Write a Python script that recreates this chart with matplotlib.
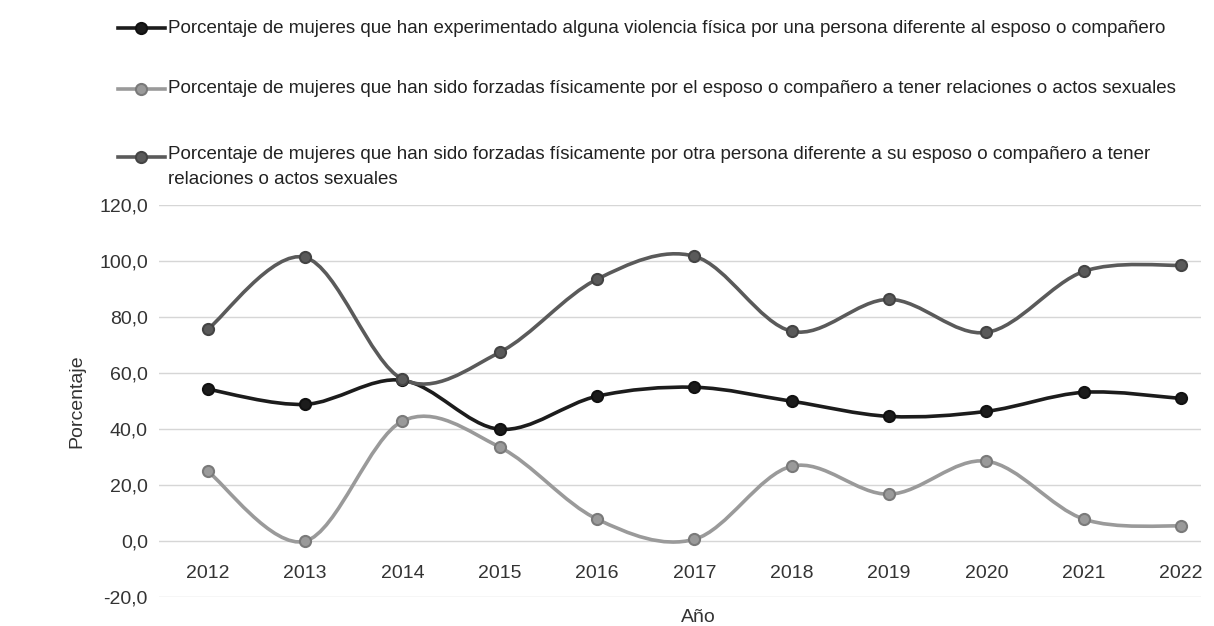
import matplotlib.pyplot as plt
import numpy as np
from matplotlib.path import Path
from matplotlib.patches import PathPatch
from matplotlib.lines import Line2D

years = [2012, 2013, 2014, 2015, 2016, 2017, 2018, 2019, 2020, 2021, 2022]
violencia_otra = [54.3, 48.9, 57.5, 40.0, 51.8, 55.0, 50.0, 44.6, 46.4, 53.2, 51.0]
forzadas_esposo = [25.0, 0.0, 42.9, 33.6, 7.9, 0.7, 26.8, 16.8, 28.6, 7.9, 5.4]
forzadas_otra = [75.7, 101.4, 57.9, 67.5, 93.6, 101.8, 75.0, 86.4, 74.6, 96.4, 98.6]

labels = [
    "Porcentaje de mujeres que han experimentado alguna violencia física por una persona diferente al esposo o compañero",
    "Porcentaje de mujeres que han sido forzadas físicamente por el esposo o compañero a tener relaciones o actos sexuales",
    "Porcentaje de mujeres que han sido forzadas físicamente por otra persona diferente a su esposo o compañero a tener\nrelaciones o actos sexuales",
]
colors = ["#1c1c1c", "#9a9a9a", "#5a5a5a"]
edge_colors = ["#111111", "#7a7a7a", "#444444"]

plt.rcParams['font.family'] = ['Liberation Sans Narrow', 'Liberation Sans', 'DejaVu Sans']


def smooth_path(x, y):
    # Bezier curve through the points (like a spreadsheet "smoothed line")
    pts = np.column_stack([x, y]).astype(float)
    verts = [pts[0]]
    codes = [Path.MOVETO]
    n = len(pts)
    for i in range(n - 1):
        p0 = pts[i - 1] if i > 0 else pts[i]
        p1 = pts[i]
        p2 = pts[i + 1]
        p3 = pts[i + 2] if i + 2 < n else pts[i + 1]
        c1 = p1 + (p2 - p0) / 6.0
        c2 = p2 - (p3 - p1) / 6.0
        verts += [c1, c2, p2]
        codes += [Path.CURVE4] * 3
    return Path(verts, codes)


fig = plt.figure(figsize=(12.14, 6.26), dpi=100)
ax = fig.add_axes([0.131, 0.046, 0.858, 0.626])

series = [violencia_otra, forzadas_esposo, forzadas_otra]
for vals, c, ec in zip(series, colors, edge_colors):
    patch = PathPatch(smooth_path(years, vals), facecolor='none', edgecolor=c, lw=2.6, zorder=3)
    ax.add_patch(patch)
    ax.plot(years, vals, ls='none', marker='o', ms=8, mfc=c, mec=ec, mew=1.5, zorder=4)

ax.set_xlim(2011.5, 2022.2)
ax.set_ylim(-20, 120)
ax.set_yticks(np.arange(-20, 121, 20))
ax.set_yticklabels([f"{v:.1f}".replace('.', ',') for v in np.arange(-20, 121, 20)])
ax.set_xticks(years)
ax.set_xticklabels([str(y) for y in years])
ax.grid(axis='y', color='#d6d6d6', lw=1)
ax.set_axisbelow(True)
for s in ax.spines.values():
    s.set_visible(False)
ax.spines['bottom'].set_position(('data', 0))
ax.tick_params(length=0, labelsize=14, colors='#333333')
ax.tick_params(axis='x', pad=17)
ax.tick_params(axis='y', pad=8)
ax.set_ylabel("Porcentaje", fontsize=14, color='#333333', labelpad=10)
fig.text(0.575, 0.006, "Año", fontsize=14, color='#333333', ha='center')

# legend at the top, one entry per row
leg_y = [0.955, 0.858, 0.75]
for i, (lab, c, ec, yy) in enumerate(zip(labels, colors, edge_colors, leg_y)):
    fig.add_artist(Line2D([0.097, 0.136], [yy, yy], color=c, lw=2.6,
                          transform=fig.transFigure))
    fig.add_artist(Line2D([0.1165], [yy], color=c, ls='none', marker='o', ms=8,
                          mfc=c, mec=ec, mew=1.5, transform=fig.transFigure))
    if i < 2:
        fig.text(0.138, yy, lab, fontsize=13.5, color='#222222', va='center', ha='left')
    else:
        fig.text(0.138, yy + 0.016, lab, fontsize=13.5, color='#222222', va='top',
                 ha='left', linespacing=1.6)

fig.savefig("out.png", dpi=100, facecolor='white')
